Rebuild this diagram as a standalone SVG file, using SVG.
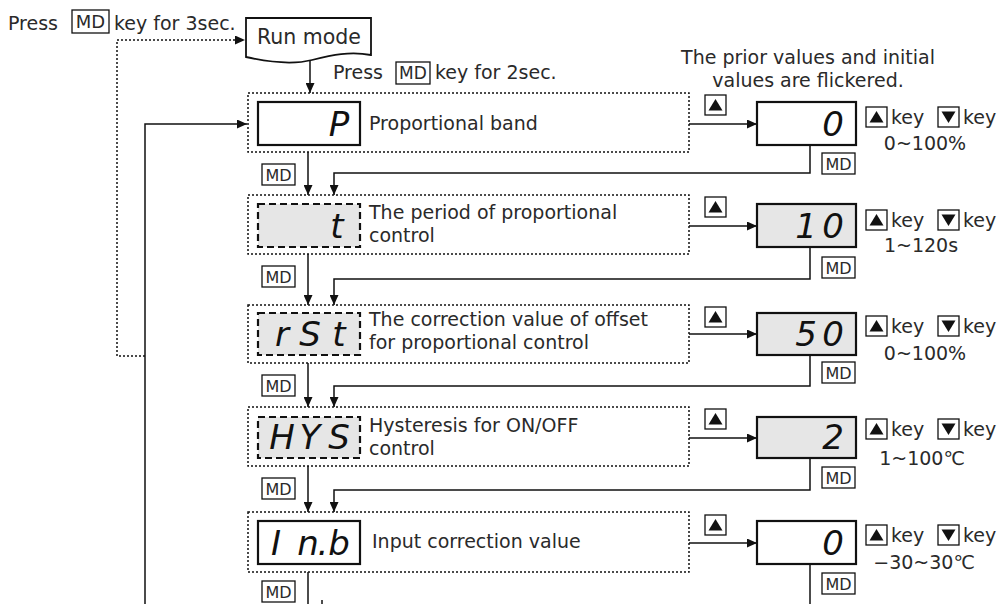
<svg xmlns="http://www.w3.org/2000/svg" xmlns:xlink="http://www.w3.org/1999/xlink" width="1005" height="604" viewBox="0 0 1005 604">
<defs>
<marker id="ah" markerUnits="userSpaceOnUse" markerWidth="11" markerHeight="9" refX="10" refY="4.5" orient="auto">
<path d="M0,0 L10,4.5 L0,9 Z" fill="#111"/>
</marker>
<g id="upkey"><rect x="0" y="0" width="21" height="20" class="kb"/><polygon points="10.5,4 17.5,15.5 3.5,15.5" class="tri"/></g>
<g id="dnkey"><rect x="0" y="0" width="21" height="20" class="kb"/><polygon points="3.5,4.5 17.5,4.5 10.5,16" class="tri"/></g>
<g id="mdkey"><rect x="0" y="0" width="33" height="21" class="kb"/><text x="16.5" y="16.5" class="k" text-anchor="middle">MD</text></g>
</defs>
<style>
.t{font-family:"DejaVu Sans","Noto Sans CJK KR",sans-serif;font-size:19px;fill:#2a2a2a}
.k{font-family:"DejaVu Sans",sans-serif;font-size:16px;fill:#2a2a2a}
.seg{font-family:"DejaVu Sans",sans-serif;font-style:italic;font-size:34px;fill:#111;text-anchor:middle}
.grp{fill:none;stroke:#111;stroke-width:1.5;stroke-dasharray:2 2}
.dispW{fill:#fff;stroke:#111;stroke-width:2.2}
.dispG{fill:#e6e6e6;stroke:#111;stroke-width:2.2}
.dispD{fill:#e6e6e6;stroke:#111;stroke-width:2.2;stroke-dasharray:7 4}
.kb{fill:#fff;stroke:#111;stroke-width:1.3}
.tri{fill:#111}
.ln{fill:none;stroke:#111;stroke-width:1.5}
.dl{fill:none;stroke:#111;stroke-width:1.5;stroke-dasharray:2 2}
.mid{text-anchor:middle}
</style>
<rect x="0" y="0" width="1005" height="604" fill="#fff"/>

<g id="connectors">
<path class="dl" d="M145,356 H117 V40 H245" marker-end="url(#ah)"/>
<path class="ln" d="M310,60 V93" marker-end="url(#ah)"/>
<path class="ln" d="M145,604 V124 H247" marker-end="url(#ah)"/>
<path class="ln" d="M308,152 V195" marker-end="url(#ah)"/>
<path class="ln" d="M308,254 V305" marker-end="url(#ah)"/>
<path class="ln" d="M308,363 V407" marker-end="url(#ah)"/>
<path class="ln" d="M308,466 V512" marker-end="url(#ah)"/>
<path class="ln" d="M308,572 V604"/>
<path class="ln" d="M689,124 H757" marker-end="url(#ah)"/>
<path class="ln" d="M689,226 H757" marker-end="url(#ah)"/>
<path class="ln" d="M689,334 H757" marker-end="url(#ah)"/>
<path class="ln" d="M689,438 H757" marker-end="url(#ah)"/>
<path class="ln" d="M689,543 H757" marker-end="url(#ah)"/>
<path class="ln" d="M810,145 V173 H334 V195" marker-end="url(#ah)"/>
<path class="ln" d="M810,247 V279 H334 V305" marker-end="url(#ah)"/>
<path class="ln" d="M810,355 V386 H334 V407" marker-end="url(#ah)"/>
<path class="ln" d="M810,458 V490 H334 V512" marker-end="url(#ah)"/>
<path class="ln" d="M810,564 V604"/>
<path class="ln" d="M322,600 V604"/>
</g>

<g id="label-3sec">
<text class="t" x="8" y="30">Press</text>
<rect x="72" y="10" width="37" height="23" class="kb"/>
<text class="t mid" x="90.5" y="28" style="font-size:18px">MD</text>
<text class="t" x="114" y="30">key for 3sec.</text>
</g>

<g id="run-mode">
<path d="M246,18 H371 V55 C350,51 332,55 312,60 C292,65 268,62 246,57 Z" fill="#fff" stroke="#111" stroke-width="1.8"/>
<text class="t" x="257" y="44" style="font-size:20.5px">Run mode</text>
</g>

<g id="label-2sec">
<text class="t" x="333" y="79">Press</text>
<rect x="396" y="62" width="34" height="22" class="kb"/>
<text class="t mid" x="413" y="79" style="font-size:17px">MD</text>
<text class="t" x="435" y="79">key for 2sec.</text>
</g>

<g id="label-flicker">
<text class="t mid" x="808" y="64">The prior values and initial</text>
<text class="t mid" x="808" y="87">values are flickered.</text>
</g>

<g id="row-P">
<rect class="grp" x="248" y="93" width="441" height="59"/>
<rect class="dispW" x="258" y="102" width="102" height="43"/>
<text class="seg" x="339" y="136">P</text>
<text class="t" x="369" y="130">Proportional band</text>
<use xlink:href="#upkey" x="705" y="95"/>
<use xlink:href="#mdkey" x="262" y="164"/>
</g>
<g id="val-P">
<rect class="dispW" x="757" y="102" width="99" height="43"/>
<text class="seg" x="833" y="136">0</text>
<use xlink:href="#mdkey" x="822" y="153"/>
<use xlink:href="#upkey" x="866" y="107"/>
<text class="t" x="891" y="124">key</text>
<use xlink:href="#dnkey" x="938" y="107"/>
<text class="t" x="963" y="124">key</text>
<text class="t mid" x="925" y="150">0~100%</text>
</g>

<g id="row-t">
<rect class="grp" x="248" y="195" width="441" height="59"/>
<rect class="dispD" x="258" y="204" width="102" height="43"/>
<text class="seg" x="337" y="238">t</text>
<text class="t" x="369" y="219">The period of proportional</text>
<text class="t" x="369" y="242">control</text>
<use xlink:href="#upkey" x="705" y="197"/>
<use xlink:href="#mdkey" x="262" y="266"/>
</g>
<g id="val-t">
<rect class="dispG" x="757" y="204" width="99" height="43"/>
<text class="seg" x="806 833" y="238">10</text>
<use xlink:href="#mdkey" x="822" y="257"/>
<use xlink:href="#upkey" x="866" y="210"/>
<text class="t" x="891" y="227">key</text>
<use xlink:href="#dnkey" x="938" y="210"/>
<text class="t" x="963" y="227">key</text>
<text class="t mid" x="921" y="252">1~120s</text>
</g>

<g id="row-rSt">
<rect class="grp" x="248" y="305" width="441" height="58"/>
<rect class="dispD" x="258" y="313" width="102" height="42"/>
<text class="seg" x="282 310 339" y="346">rSt</text>
<text class="t" x="369" y="326">The correction value of offset</text>
<text class="t" x="369" y="349">for proportional control</text>
<use xlink:href="#upkey" x="705" y="307"/>
<use xlink:href="#mdkey" x="262" y="375"/>
</g>
<g id="val-rSt">
<rect class="dispG" x="757" y="313" width="99" height="42"/>
<text class="seg" x="806 833" y="346">50</text>
<use xlink:href="#mdkey" x="822" y="362"/>
<use xlink:href="#upkey" x="866" y="316"/>
<text class="t" x="891" y="333">key</text>
<use xlink:href="#dnkey" x="938" y="316"/>
<text class="t" x="963" y="333">key</text>
<text class="t mid" x="925" y="360">0~100%</text>
</g>

<g id="row-HYS">
<rect class="grp" x="248" y="407" width="441" height="59"/>
<rect class="dispD" x="258" y="417" width="102" height="41"/>
<text class="seg" x="282 310 339" y="449">HYS</text>
<text class="t" x="369" y="432">Hysteresis for ON/OFF</text>
<text class="t" x="369" y="455">control</text>
<use xlink:href="#upkey" x="705" y="409"/>
<use xlink:href="#mdkey" x="262" y="478"/>
</g>
<g id="val-HYS">
<rect class="dispG" x="757" y="417" width="99" height="41"/>
<text class="seg" x="833" y="449">2</text>
<use xlink:href="#mdkey" x="822" y="467"/>
<use xlink:href="#upkey" x="866" y="419"/>
<text class="t" x="891" y="436">key</text>
<use xlink:href="#dnkey" x="938" y="419"/>
<text class="t" x="963" y="436">key</text>
<text class="t mid" x="922" y="465">1~100℃</text>
</g>

<g id="row-Inb">
<rect class="grp" x="248" y="512" width="441" height="60"/>
<rect class="dispW" x="258" y="521" width="102" height="43"/>
<text class="seg" x="276 308 323 339" y="555">In.b</text>
<text class="t" x="372" y="548">Input correction value</text>
<use xlink:href="#upkey" x="705" y="515"/>
<use xlink:href="#mdkey" x="262" y="581"/>
</g>
<g id="val-Inb">
<rect class="dispW" x="757" y="521" width="99" height="43"/>
<text class="seg" x="833" y="555">0</text>
<use xlink:href="#mdkey" x="822" y="573"/>
<use xlink:href="#upkey" x="866" y="525"/>
<text class="t" x="891" y="542">key</text>
<use xlink:href="#dnkey" x="938" y="525"/>
<text class="t" x="963" y="542">key</text>
<text class="t mid" x="924" y="569">−30~30℃</text>
</g>
</svg>
